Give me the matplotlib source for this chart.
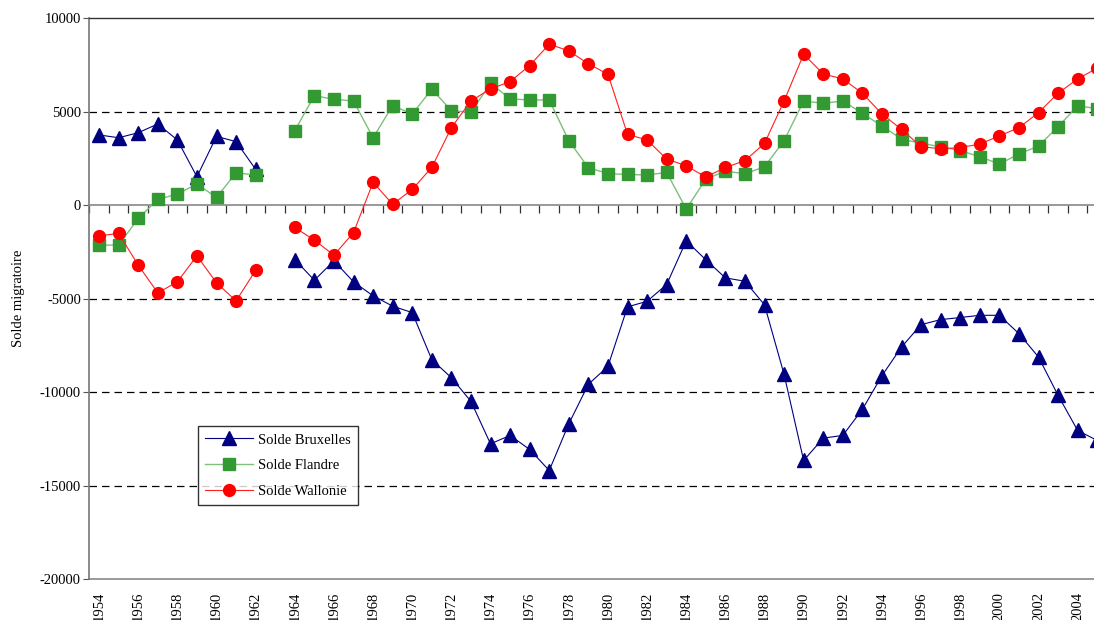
import numpy as np
import matplotlib
matplotlib.use('Agg')
import matplotlib.pyplot as plt

plt.rcParams['font.family'] = ['Liberation Serif', 'DejaVu Serif']
plt.rcParams['axes.unicode_minus'] = False

# années 1954-2005, pas de données pour 1963
annees = np.arange(1954, 2006)

bruxelles = [3750, 3600, 3870, 4335, 3480, 1515, 3675, 3390, 1910, np.nan,
             -2910, -4015, -2980, -4100, -4850, -5400, -5745, -8260, -9225, -10490,
             -12760, -12310, -13060, -14185, -11690, -9580, -8620, -5440, -5140, -4245,
             -1910, -2920, -3890, -4070, -5330, -9050, -13650, -12455, -12310, -10920,
             -9120, -7585, -6390, -6120, -6010, -5890, -5890, -6870, -8120, -10170,
             -12045, -12580]

flandre = [-2140, -2140, -713, 303, 590, 1125, 410, 1730, 1605, np.nan,
           3980, 5850, 5655, 5565, 3600, 5320, 4870, 6190, 5050, 4960,
           6510, 5675, 5620, 5620, 3440, 2000, 1680, 1640, 1605, 1750,
           -215, 1385, 1820, 1670, 2050, 3440, 5565, 5440, 5565, 4905,
           4230, 3530, 3300, 3120, 2910, 2590, 2195, 2730, 3160, 4190,
           5300, 5160]

wallonie = [-1640, -1515, -3210, -4690, -4100, -2710, -4155, -5120, -3480, np.nan,
            -1195, -1875, -2675, -1470, 1215, 45, 840, 2015, 4140, 5565,
            6210, 6600, 7460, 8600, 8245, 7550, 6995, 3785, 3480, 2460,
            2105, 1500, 2010, 2375, 3300, 5565, 8065, 7010, 6745, 5980,
            4870, 4050, 3120, 3015, 3070, 3265, 3695, 4140, 4940, 5980,
            6745, 7320]

etiquettes = np.arange(1954, 2005, 2)

W, H = 1094, 620
fig = plt.figure(figsize=(W / 100, H / 100), dpi=100)
# l'axe dépasse à droite comme dans l'original (image rognée)
x0, x1 = 89.3, 1107.0
y_top, y_bot = 18.0, 579.3
ax = fig.add_axes([x0 / W, 1 - y_bot / H, (x1 - x0) / W, (y_bot - y_top) / H])

ax.set_xlim(1953.5, 2005.5)
ax.set_ylim(-20000, 10000)

# grille en tirets
for v in [5000, -5000, -10000, -15000]:
    ax.axhline(v, color='black', lw=0.9, ls=(0, (6, 4)), zorder=1)

ax.plot(annees, bruxelles, color='#000080', lw=0.8, marker='^', ms=9.5,
        mfc='#000080', mec='#000080', label='Solde Bruxelles', zorder=3, clip_on=False)
ax.plot(annees, flandre, color='#7cc07c', lw=1.0, marker='s', ms=8,
        mfc='#339933', mec='#339933', label='Solde Flandre', zorder=3, clip_on=False)
ax.plot(annees, wallonie, color='#ff2020', lw=0.8, marker='o', ms=8.5,
        mfc='#ff0000', mec='#ff0000', label='Solde Wallonie', zorder=4, clip_on=False)

# axes
ax.spines['right'].set_visible(False)
ax.spines['top'].set_color('#333333')
ax.spines['top'].set_linewidth(1.0)
ax.spines['left'].set_color('#777777')
ax.spines['left'].set_linewidth(1.2)
ax.spines['bottom'].set_position(('data', 0))
ax.spines['bottom'].set_color('#888888')
ax.spines['bottom'].set_linewidth(1.2)

ax.set_yticks(np.arange(-20000, 10001, 5000))
ax.tick_params(axis='y', direction='out', length=4, color='#555555',
               labelsize=10.5, pad=2)

ax.set_xticks(np.arange(1953.5, 2005.6, 1))
ax.tick_params(axis='x', direction='out', length=6, color='#333333',
               labelbottom=False, width=0.9)

# étiquettes des années en bas du graphique
sec = ax.secondary_xaxis(0.0)
sec.set_xticks(etiquettes)
sec.set_xticklabels([str(a) for a in etiquettes], rotation=90)
sec.tick_params(length=0, labelsize=10.5, pad=9)
sec.spines['bottom'].set_color('#888888')
sec.spines['bottom'].set_linewidth(1.2)

ax.set_ylabel('Solde migratoire', fontsize=10.5)
ax.yaxis.set_label_coords((25 - x0) / (x1 - x0), 0.5)

leg = ax.legend(loc='upper left', bbox_to_anchor=(198 / W, 1 - 426 / H),
                bbox_transform=fig.transFigure, fontsize=10.5, frameon=True,
                fancybox=False, edgecolor='black', handlelength=3.3,
                borderpad=0.5, labelspacing=0.85, handletextpad=0.3,
                borderaxespad=0)
leg.get_frame().set_linewidth(1.0)

fig.savefig('out.png', dpi=100)
